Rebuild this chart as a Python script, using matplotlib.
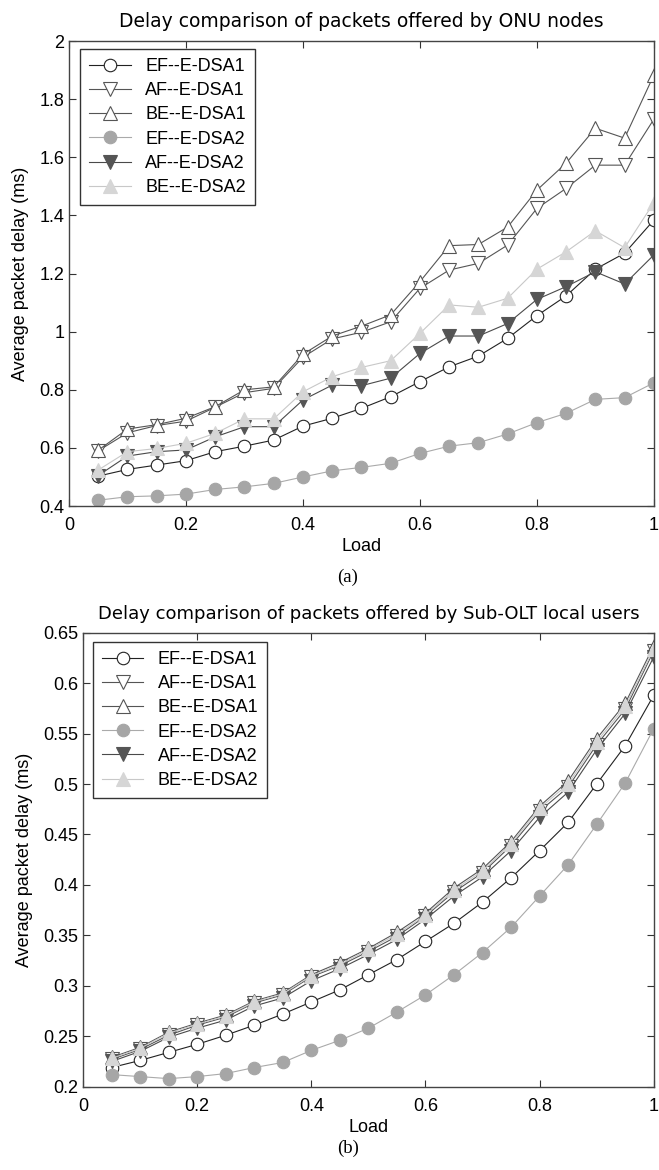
import matplotlib
matplotlib.use("Agg")
import matplotlib.pyplot as plt

plt.rcParams['font.family'] = ['Liberation Sans', 'DejaVu Sans']

load = [0.05, 0.10, 0.15, 0.20, 0.25, 0.30, 0.35, 0.40, 0.45, 0.50,
        0.55, 0.60, 0.65, 0.70, 0.75, 0.80, 0.85, 0.90, 0.95, 1.00]
labels = ["EF--E-DSA1", "AF--E-DSA1", "BE--E-DSA1", "EF--E-DSA2", "AF--E-DSA2", "BE--E-DSA2"]

# (a) ONU nodes
onu_ef1 = [0.503, 0.526, 0.541, 0.556, 0.587, 0.606, 0.627, 0.675, 0.702, 0.736,
           0.776, 0.828, 0.879, 0.916, 0.977, 1.055, 1.123, 1.215, 1.270, 1.384]
onu_af1 = [0.590, 0.652, 0.677, 0.692, 0.740, 0.790, 0.805, 0.912, 0.975, 0.998,
           1.034, 1.149, 1.212, 1.235, 1.298, 1.424, 1.493, 1.573, 1.573, 1.731]
onu_be1 = [0.592, 0.665, 0.680, 0.702, 0.742, 0.800, 0.810, 0.922, 0.985, 1.019,
           1.058, 1.172, 1.296, 1.300, 1.360, 1.487, 1.580, 1.700, 1.666, 1.883]
onu_ef2 = [0.420, 0.432, 0.435, 0.441, 0.457, 0.466, 0.478, 0.500, 0.521, 0.533,
           0.547, 0.581, 0.606, 0.618, 0.648, 0.687, 0.719, 0.767, 0.773, 0.824]
onu_af2 = [0.505, 0.572, 0.587, 0.593, 0.638, 0.673, 0.673, 0.765, 0.816, 0.814,
           0.840, 0.925, 0.985, 0.985, 1.028, 1.111, 1.155, 1.206, 1.164, 1.264]
onu_be2 = [0.524, 0.587, 0.598, 0.616, 0.650, 0.700, 0.700, 0.793, 0.845, 0.877,
           0.900, 0.994, 1.092, 1.084, 1.115, 1.215, 1.275, 1.347, 1.289, 1.444]

# (b) Sub-OLT local users
olt_ef1 = [0.219, 0.226, 0.234, 0.242, 0.251, 0.261, 0.272, 0.284, 0.296, 0.311,
           0.326, 0.344, 0.362, 0.383, 0.407, 0.434, 0.462, 0.500, 0.538, 0.588]
olt_af1 = [0.227, 0.237, 0.251, 0.261, 0.269, 0.283, 0.291, 0.309, 0.320, 0.334,
           0.349, 0.369, 0.393, 0.412, 0.439, 0.473, 0.497, 0.539, 0.574, 0.632]
olt_be1 = [0.229, 0.239, 0.254, 0.263, 0.271, 0.285, 0.293, 0.311, 0.323, 0.337,
           0.353, 0.372, 0.397, 0.416, 0.443, 0.478, 0.503, 0.545, 0.580, 0.637]
olt_ef2 = [0.212, 0.210, 0.208, 0.210, 0.213, 0.219, 0.224, 0.236, 0.246, 0.258,
           0.274, 0.291, 0.311, 0.333, 0.358, 0.389, 0.420, 0.460, 0.501, 0.555]
olt_af2 = [0.225, 0.235, 0.249, 0.258, 0.266, 0.280, 0.288, 0.305, 0.317, 0.331,
           0.346, 0.366, 0.389, 0.408, 0.434, 0.467, 0.492, 0.534, 0.570, 0.626]
olt_be2 = [0.228, 0.238, 0.253, 0.262, 0.270, 0.284, 0.292, 0.310, 0.321, 0.336,
           0.351, 0.370, 0.395, 0.414, 0.441, 0.476, 0.500, 0.542, 0.577, 0.634]

styles = [
    dict(color='#222222', marker='o', mfc='white', mec='#222222', ms=9),
    dict(color='#555555', marker='v', mfc='white', mec='#555555', ms=10),
    dict(color='#555555', marker='^', mfc='white', mec='#555555', ms=10),
    dict(color='#aaaaaa', marker='o', mfc='#a6a6a6', mec='#a6a6a6', ms=9),
    dict(color='#4a4a4a', marker='v', mfc='#555555', mec='#555555', ms=10),
    dict(color='#c8c8c8', marker='^', mfc='#d6d6d6', mec='#d6d6d6', ms=10),
]


def panel(ax, series, title, tsize, yticks, ylabels, ylim, anchor):
    for ys, lab, st in zip(series, labels, styles):
        ax.plot(load, ys, lw=0.8, mew=0.8, label=lab, **st)
    ax.set_xlim(0, 1)
    ax.set_ylim(*ylim)
    ax.set_xticks([0, 0.2, 0.4, 0.6, 0.8, 1])
    ax.set_xticklabels(["0", "0.2", "0.4", "0.6", "0.8", "1"])
    ax.set_yticks(yticks)
    ax.set_yticklabels(ylabels)
    ax.tick_params(direction='in', top=True, right=True, length=5, labelsize=13,
                   colors='#333333', labelcolor='black')
    ax.tick_params(axis='x', pad=8)
    for s in ax.spines.values():
        s.set_color('#444444')
        s.set_linewidth(1.0)
    ax.set_title(title, fontsize=tsize, pad=10, family=['DejaVu Sans'])
    ax.set_xlabel("Load", fontsize=13, labelpad=3)
    ax.set_ylabel("Average packet delay (ms)", fontsize=13, labelpad=7)
    leg = ax.legend(loc='upper left', fontsize=13, fancybox=False, framealpha=1,
                    edgecolor='#333333', handlelength=2.3, labelspacing=0.4,
                    borderpad=0.5, handletextpad=0.8, borderaxespad=0,
                    bbox_to_anchor=anchor)
    leg.get_frame().set_linewidth(1.0)


fig = plt.figure(figsize=(6.59, 11.70), dpi=100)

ax1 = fig.add_axes([0.1047, 0.5675, 0.8875, 0.3974])
panel(ax1, [onu_ef1, onu_af1, onu_be1, onu_ef2, onu_af2, onu_be2],
      "Delay comparison of packets offered by ONU nodes", 13.5,
      [0.4, 0.6, 0.8, 1.0, 1.2, 1.4, 1.6, 1.8, 2.0],
      ["0.4", "0.6", "0.8", "1", "1.2", "1.4", "1.6", "1.8", "2"], (0.4, 2.0),
      (0.019, 0.983))

ax2 = fig.add_axes([0.126, 0.0712, 0.866, 0.388])
panel(ax2, [olt_ef1, olt_af1, olt_be1, olt_ef2, olt_af2, olt_be2],
      "Delay comparison of packets offered by Sub-OLT local users", 13,
      [0.2, 0.25, 0.3, 0.35, 0.4, 0.45, 0.5, 0.55, 0.6, 0.65],
      ["0.2", "0.25", "0.3", "0.35", "0.4", "0.45", "0.5", "0.55", "0.6", "0.65"], (0.2, 0.65),
      (0.017, 0.98))

fig.text(348 / 659, 1 - 577 / 1170, "(a)", ha='center', va='center', fontsize=13.5,
         family=['Liberation Serif', 'DejaVu Serif'])
fig.text(348 / 659, 1 - 1148 / 1170, "(b)", ha='center', va='center', fontsize=13.5,
         family=['Liberation Serif', 'DejaVu Serif'])

fig.savefig("out.png", dpi=100)
